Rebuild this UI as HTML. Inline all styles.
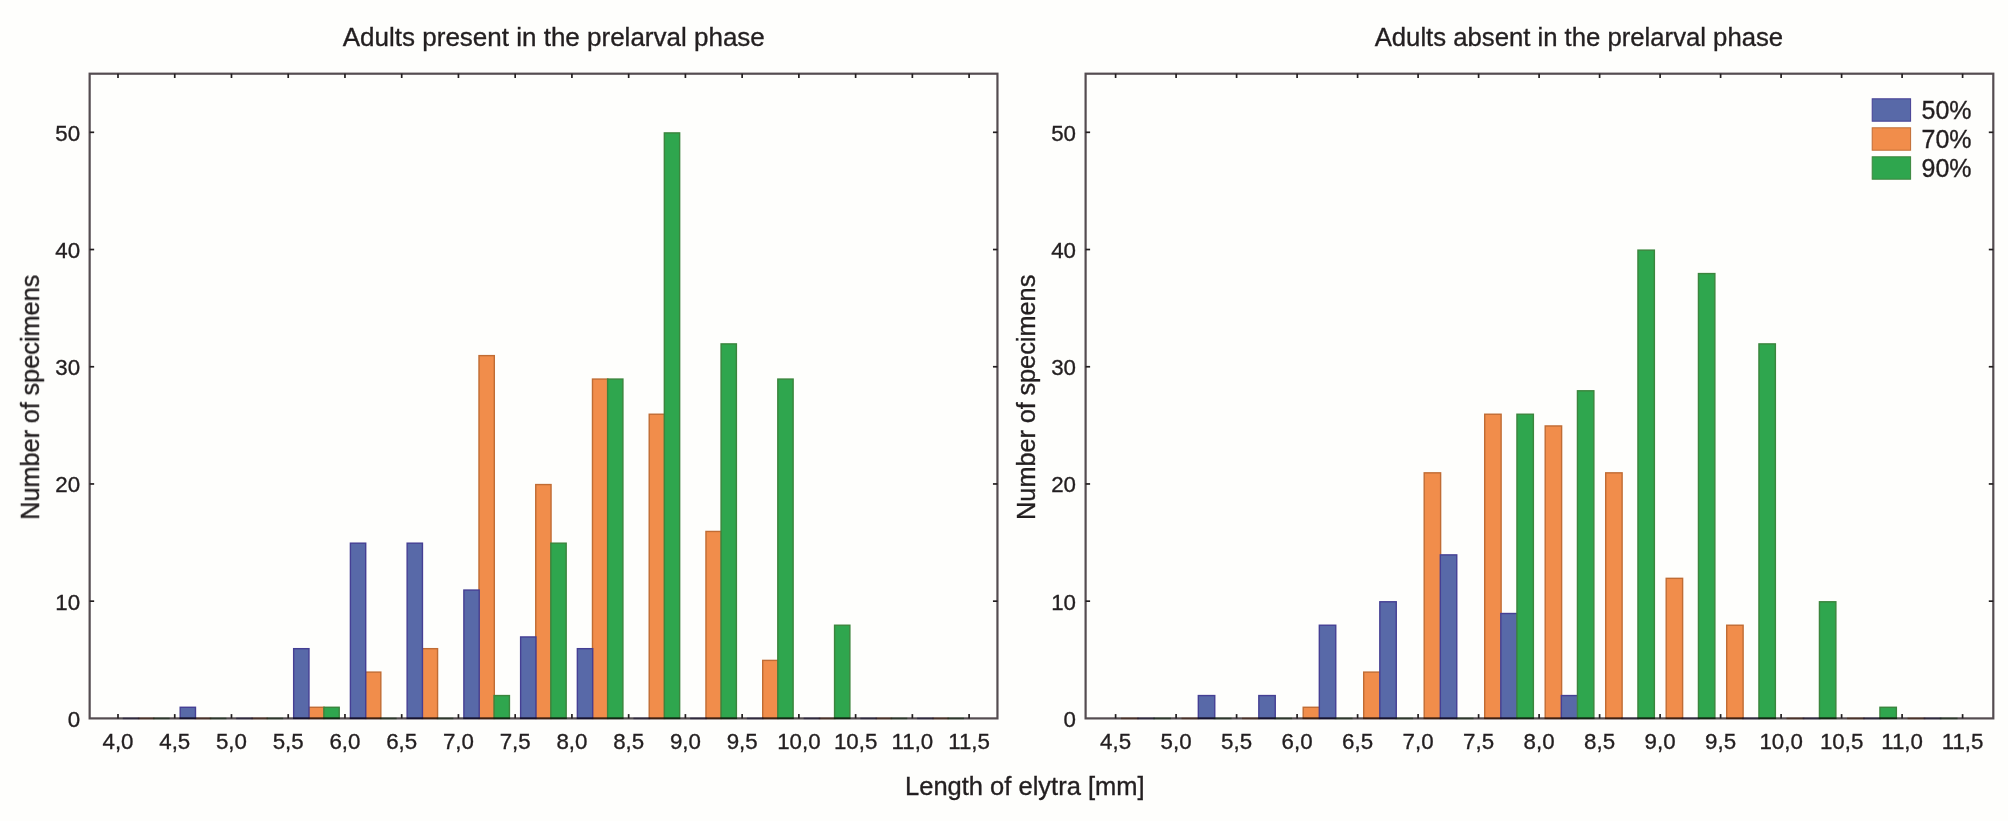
<!DOCTYPE html>
<html><head><meta charset="utf-8"><title>Length of elytra histogram</title>
<style>
html,body{margin:0;padding:0;background:#fefefc;}
body{width:2008px;height:821px;overflow:hidden;}
svg{display:block;}
svg text{font-family:"Liberation Sans",Arial,Helvetica,sans-serif;fill:#231f20;stroke:#231f20;stroke-width:0.35px;}
#all{filter:blur(0.45px);}
</style></head><body>
<svg width="2008" height="821" viewBox="0 0 2008 821">
<rect x="0" y="0" width="2008" height="821" fill="#fefefc"/>
<g id="all">
<rect x="137.86" y="717.55" width="16.71" height="1.7" fill="#c06c34" opacity="0.6"/>
<rect x="194.60" y="717.55" width="16.71" height="1.7" fill="#c06c34" opacity="0.6"/>
<rect x="251.34" y="717.55" width="16.71" height="1.7" fill="#c06c34" opacity="0.6"/>
<rect x="308.78" y="707.28" width="15.31" height="11.12" fill="#f18d4b" stroke="#c06c34" stroke-width="1.4"/>
<rect x="365.52" y="672.11" width="15.31" height="46.29" fill="#f18d4b" stroke="#c06c34" stroke-width="1.4"/>
<rect x="422.26" y="648.67" width="15.31" height="69.73" fill="#f18d4b" stroke="#c06c34" stroke-width="1.4"/>
<rect x="479.00" y="355.62" width="15.31" height="362.78" fill="#f18d4b" stroke="#c06c34" stroke-width="1.4"/>
<rect x="535.74" y="484.56" width="15.31" height="233.84" fill="#f18d4b" stroke="#c06c34" stroke-width="1.4"/>
<rect x="592.48" y="379.07" width="15.31" height="339.33" fill="#f18d4b" stroke="#c06c34" stroke-width="1.4"/>
<rect x="649.22" y="414.23" width="15.31" height="304.17" fill="#f18d4b" stroke="#c06c34" stroke-width="1.4"/>
<rect x="705.96" y="531.45" width="15.31" height="186.95" fill="#f18d4b" stroke="#c06c34" stroke-width="1.4"/>
<rect x="762.70" y="660.39" width="15.31" height="58.01" fill="#f18d4b" stroke="#c06c34" stroke-width="1.4"/>
<rect x="818.74" y="717.55" width="16.71" height="1.7" fill="#c06c34" opacity="0.6"/>
<rect x="875.48" y="717.55" width="16.71" height="1.7" fill="#c06c34" opacity="0.6"/>
<rect x="932.22" y="717.55" width="16.71" height="1.7" fill="#c06c34" opacity="0.6"/>
<rect x="122.74" y="717.55" width="16.71" height="1.7" fill="#453f94" opacity="0.6"/>
<rect x="180.18" y="707.28" width="15.31" height="11.12" fill="#5869a8" stroke="#453f94" stroke-width="1.4"/>
<rect x="236.22" y="717.55" width="16.71" height="1.7" fill="#453f94" opacity="0.6"/>
<rect x="293.66" y="648.67" width="15.31" height="69.73" fill="#5869a8" stroke="#453f94" stroke-width="1.4"/>
<rect x="350.40" y="543.17" width="15.31" height="175.23" fill="#5869a8" stroke="#453f94" stroke-width="1.4"/>
<rect x="407.14" y="543.17" width="15.31" height="175.23" fill="#5869a8" stroke="#453f94" stroke-width="1.4"/>
<rect x="463.88" y="590.06" width="15.31" height="128.34" fill="#5869a8" stroke="#453f94" stroke-width="1.4"/>
<rect x="520.62" y="636.95" width="15.31" height="81.45" fill="#5869a8" stroke="#453f94" stroke-width="1.4"/>
<rect x="577.36" y="648.67" width="15.31" height="69.73" fill="#5869a8" stroke="#453f94" stroke-width="1.4"/>
<rect x="633.40" y="717.55" width="16.71" height="1.7" fill="#453f94" opacity="0.6"/>
<rect x="690.14" y="717.55" width="16.71" height="1.7" fill="#453f94" opacity="0.6"/>
<rect x="746.88" y="717.55" width="16.71" height="1.7" fill="#453f94" opacity="0.6"/>
<rect x="803.62" y="717.55" width="16.71" height="1.7" fill="#453f94" opacity="0.6"/>
<rect x="860.36" y="717.55" width="16.71" height="1.7" fill="#453f94" opacity="0.6"/>
<rect x="917.10" y="717.55" width="16.71" height="1.7" fill="#453f94" opacity="0.6"/>
<rect x="152.98" y="717.55" width="16.71" height="1.7" fill="#3b853d" opacity="0.6"/>
<rect x="209.72" y="717.55" width="16.71" height="1.7" fill="#3b853d" opacity="0.6"/>
<rect x="266.46" y="717.55" width="16.71" height="1.7" fill="#3b853d" opacity="0.6"/>
<rect x="323.90" y="707.28" width="15.31" height="11.12" fill="#2fa64e" stroke="#3b853d" stroke-width="1.4"/>
<rect x="379.94" y="717.55" width="16.71" height="1.7" fill="#3b853d" opacity="0.6"/>
<rect x="436.68" y="717.55" width="16.71" height="1.7" fill="#3b853d" opacity="0.6"/>
<rect x="494.12" y="695.56" width="15.31" height="22.84" fill="#2fa64e" stroke="#3b853d" stroke-width="1.4"/>
<rect x="550.86" y="543.17" width="15.31" height="175.23" fill="#2fa64e" stroke="#3b853d" stroke-width="1.4"/>
<rect x="607.60" y="379.07" width="15.31" height="339.33" fill="#2fa64e" stroke="#3b853d" stroke-width="1.4"/>
<rect x="664.34" y="132.91" width="15.31" height="585.49" fill="#2fa64e" stroke="#3b853d" stroke-width="1.4"/>
<rect x="721.08" y="343.90" width="15.31" height="374.50" fill="#2fa64e" stroke="#3b853d" stroke-width="1.4"/>
<rect x="777.82" y="379.07" width="15.31" height="339.33" fill="#2fa64e" stroke="#3b853d" stroke-width="1.4"/>
<rect x="834.56" y="625.23" width="15.31" height="93.17" fill="#2fa64e" stroke="#3b853d" stroke-width="1.4"/>
<rect x="890.60" y="717.55" width="16.71" height="1.7" fill="#3b853d" opacity="0.6"/>
<rect x="947.34" y="717.55" width="16.71" height="1.7" fill="#3b853d" opacity="0.6"/>
<rect x="89.65" y="73.70" width="907.80" height="644.70" fill="none" stroke="#544c50" stroke-width="2.2" style="mix-blend-mode:multiply"/>
<line x1="118.00" y1="718.40" x2="118.00" y2="714.10" stroke="#231f20" stroke-width="1.7"/>
<line x1="118.00" y1="73.70" x2="118.00" y2="78.00" stroke="#231f20" stroke-width="1.7"/>
<text x="118.00" y="748.7" font-size="22.3" text-anchor="middle">4,0</text>
<line x1="174.74" y1="718.40" x2="174.74" y2="714.10" stroke="#231f20" stroke-width="1.7"/>
<line x1="174.74" y1="73.70" x2="174.74" y2="78.00" stroke="#231f20" stroke-width="1.7"/>
<text x="174.74" y="748.7" font-size="22.3" text-anchor="middle">4,5</text>
<line x1="231.48" y1="718.40" x2="231.48" y2="714.10" stroke="#231f20" stroke-width="1.7"/>
<line x1="231.48" y1="73.70" x2="231.48" y2="78.00" stroke="#231f20" stroke-width="1.7"/>
<text x="231.48" y="748.7" font-size="22.3" text-anchor="middle">5,0</text>
<line x1="288.22" y1="718.40" x2="288.22" y2="714.10" stroke="#231f20" stroke-width="1.7"/>
<line x1="288.22" y1="73.70" x2="288.22" y2="78.00" stroke="#231f20" stroke-width="1.7"/>
<text x="288.22" y="748.7" font-size="22.3" text-anchor="middle">5,5</text>
<line x1="344.96" y1="718.40" x2="344.96" y2="714.10" stroke="#231f20" stroke-width="1.7"/>
<line x1="344.96" y1="73.70" x2="344.96" y2="78.00" stroke="#231f20" stroke-width="1.7"/>
<text x="344.96" y="748.7" font-size="22.3" text-anchor="middle">6,0</text>
<line x1="401.70" y1="718.40" x2="401.70" y2="714.10" stroke="#231f20" stroke-width="1.7"/>
<line x1="401.70" y1="73.70" x2="401.70" y2="78.00" stroke="#231f20" stroke-width="1.7"/>
<text x="401.70" y="748.7" font-size="22.3" text-anchor="middle">6,5</text>
<line x1="458.44" y1="718.40" x2="458.44" y2="714.10" stroke="#231f20" stroke-width="1.7"/>
<line x1="458.44" y1="73.70" x2="458.44" y2="78.00" stroke="#231f20" stroke-width="1.7"/>
<text x="458.44" y="748.7" font-size="22.3" text-anchor="middle">7,0</text>
<line x1="515.18" y1="718.40" x2="515.18" y2="714.10" stroke="#231f20" stroke-width="1.7"/>
<line x1="515.18" y1="73.70" x2="515.18" y2="78.00" stroke="#231f20" stroke-width="1.7"/>
<text x="515.18" y="748.7" font-size="22.3" text-anchor="middle">7,5</text>
<line x1="571.92" y1="718.40" x2="571.92" y2="714.10" stroke="#231f20" stroke-width="1.7"/>
<line x1="571.92" y1="73.70" x2="571.92" y2="78.00" stroke="#231f20" stroke-width="1.7"/>
<text x="571.92" y="748.7" font-size="22.3" text-anchor="middle">8,0</text>
<line x1="628.66" y1="718.40" x2="628.66" y2="714.10" stroke="#231f20" stroke-width="1.7"/>
<line x1="628.66" y1="73.70" x2="628.66" y2="78.00" stroke="#231f20" stroke-width="1.7"/>
<text x="628.66" y="748.7" font-size="22.3" text-anchor="middle">8,5</text>
<line x1="685.40" y1="718.40" x2="685.40" y2="714.10" stroke="#231f20" stroke-width="1.7"/>
<line x1="685.40" y1="73.70" x2="685.40" y2="78.00" stroke="#231f20" stroke-width="1.7"/>
<text x="685.40" y="748.7" font-size="22.3" text-anchor="middle">9,0</text>
<line x1="742.14" y1="718.40" x2="742.14" y2="714.10" stroke="#231f20" stroke-width="1.7"/>
<line x1="742.14" y1="73.70" x2="742.14" y2="78.00" stroke="#231f20" stroke-width="1.7"/>
<text x="742.14" y="748.7" font-size="22.3" text-anchor="middle">9,5</text>
<line x1="798.88" y1="718.40" x2="798.88" y2="714.10" stroke="#231f20" stroke-width="1.7"/>
<line x1="798.88" y1="73.70" x2="798.88" y2="78.00" stroke="#231f20" stroke-width="1.7"/>
<text x="798.88" y="748.7" font-size="22.3" text-anchor="middle">10,0</text>
<line x1="855.62" y1="718.40" x2="855.62" y2="714.10" stroke="#231f20" stroke-width="1.7"/>
<line x1="855.62" y1="73.70" x2="855.62" y2="78.00" stroke="#231f20" stroke-width="1.7"/>
<text x="855.62" y="748.7" font-size="22.3" text-anchor="middle">10,5</text>
<line x1="912.36" y1="718.40" x2="912.36" y2="714.10" stroke="#231f20" stroke-width="1.7"/>
<line x1="912.36" y1="73.70" x2="912.36" y2="78.00" stroke="#231f20" stroke-width="1.7"/>
<text x="912.36" y="748.7" font-size="22.3" text-anchor="middle">11,0</text>
<line x1="969.10" y1="718.40" x2="969.10" y2="714.10" stroke="#231f20" stroke-width="1.7"/>
<line x1="969.10" y1="73.70" x2="969.10" y2="78.00" stroke="#231f20" stroke-width="1.7"/>
<text x="969.10" y="748.7" font-size="22.3" text-anchor="middle">11,5</text>
<text x="80.05" y="726.80" font-size="22.3" text-anchor="end">0</text>
<line x1="89.65" y1="601.18" x2="94.15" y2="601.18" stroke="#231f20" stroke-width="1.7"/>
<line x1="997.45" y1="601.18" x2="992.95" y2="601.18" stroke="#231f20" stroke-width="1.7"/>
<text x="80.05" y="609.58" font-size="22.3" text-anchor="end">10</text>
<line x1="89.65" y1="483.96" x2="94.15" y2="483.96" stroke="#231f20" stroke-width="1.7"/>
<line x1="997.45" y1="483.96" x2="992.95" y2="483.96" stroke="#231f20" stroke-width="1.7"/>
<text x="80.05" y="492.36" font-size="22.3" text-anchor="end">20</text>
<line x1="89.65" y1="366.75" x2="94.15" y2="366.75" stroke="#231f20" stroke-width="1.7"/>
<line x1="997.45" y1="366.75" x2="992.95" y2="366.75" stroke="#231f20" stroke-width="1.7"/>
<text x="80.05" y="375.15" font-size="22.3" text-anchor="end">30</text>
<line x1="89.65" y1="249.53" x2="94.15" y2="249.53" stroke="#231f20" stroke-width="1.7"/>
<line x1="997.45" y1="249.53" x2="992.95" y2="249.53" stroke="#231f20" stroke-width="1.7"/>
<text x="80.05" y="257.93" font-size="22.3" text-anchor="end">40</text>
<line x1="89.65" y1="132.31" x2="94.15" y2="132.31" stroke="#231f20" stroke-width="1.7"/>
<line x1="997.45" y1="132.31" x2="992.95" y2="132.31" stroke="#231f20" stroke-width="1.7"/>
<text x="80.05" y="140.71" font-size="22.3" text-anchor="end">50</text>
<text x="553.80" y="46.3" font-size="26" text-anchor="middle">Adults present in the prelarval phase</text>
<text transform="translate(38.95,397.3) rotate(-90)" font-size="25.3" word-spacing="-0.4" text-anchor="middle">Number of specimens</text>
<rect x="1121.00" y="717.55" width="17.82" height="1.7" fill="#c06c34" opacity="0.6"/>
<rect x="1181.50" y="717.55" width="17.82" height="1.7" fill="#c06c34" opacity="0.6"/>
<rect x="1242.00" y="717.55" width="17.82" height="1.7" fill="#c06c34" opacity="0.6"/>
<rect x="1303.20" y="707.28" width="16.42" height="11.12" fill="#f18d4b" stroke="#c06c34" stroke-width="1.4"/>
<rect x="1363.70" y="672.11" width="16.42" height="46.29" fill="#f18d4b" stroke="#c06c34" stroke-width="1.4"/>
<rect x="1424.20" y="472.84" width="16.42" height="245.56" fill="#f18d4b" stroke="#c06c34" stroke-width="1.4"/>
<rect x="1484.70" y="414.23" width="16.42" height="304.17" fill="#f18d4b" stroke="#c06c34" stroke-width="1.4"/>
<rect x="1545.20" y="425.95" width="16.42" height="292.45" fill="#f18d4b" stroke="#c06c34" stroke-width="1.4"/>
<rect x="1605.70" y="472.84" width="16.42" height="245.56" fill="#f18d4b" stroke="#c06c34" stroke-width="1.4"/>
<rect x="1666.20" y="578.34" width="16.42" height="140.06" fill="#f18d4b" stroke="#c06c34" stroke-width="1.4"/>
<rect x="1726.70" y="625.23" width="16.42" height="93.17" fill="#f18d4b" stroke="#c06c34" stroke-width="1.4"/>
<rect x="1786.50" y="717.55" width="17.82" height="1.7" fill="#c06c34" opacity="0.6"/>
<rect x="1847.00" y="717.55" width="17.82" height="1.7" fill="#c06c34" opacity="0.6"/>
<rect x="1907.50" y="717.55" width="17.82" height="1.7" fill="#c06c34" opacity="0.6"/>
<rect x="1137.12" y="717.55" width="17.82" height="1.7" fill="#453f94" opacity="0.6"/>
<rect x="1198.33" y="695.56" width="16.42" height="22.84" fill="#5869a8" stroke="#453f94" stroke-width="1.4"/>
<rect x="1258.83" y="695.56" width="16.42" height="22.84" fill="#5869a8" stroke="#453f94" stroke-width="1.4"/>
<rect x="1319.33" y="625.23" width="16.42" height="93.17" fill="#5869a8" stroke="#453f94" stroke-width="1.4"/>
<rect x="1379.83" y="601.78" width="16.42" height="116.62" fill="#5869a8" stroke="#453f94" stroke-width="1.4"/>
<rect x="1440.33" y="554.89" width="16.42" height="163.51" fill="#5869a8" stroke="#453f94" stroke-width="1.4"/>
<rect x="1500.83" y="613.50" width="16.42" height="104.90" fill="#5869a8" stroke="#453f94" stroke-width="1.4"/>
<rect x="1561.33" y="695.56" width="16.42" height="22.84" fill="#5869a8" stroke="#453f94" stroke-width="1.4"/>
<rect x="1621.12" y="717.55" width="17.82" height="1.7" fill="#453f94" opacity="0.6"/>
<rect x="1681.62" y="717.55" width="17.82" height="1.7" fill="#453f94" opacity="0.6"/>
<rect x="1742.12" y="717.55" width="17.82" height="1.7" fill="#453f94" opacity="0.6"/>
<rect x="1802.62" y="717.55" width="17.82" height="1.7" fill="#453f94" opacity="0.6"/>
<rect x="1863.12" y="717.55" width="17.82" height="1.7" fill="#453f94" opacity="0.6"/>
<rect x="1923.62" y="717.55" width="17.82" height="1.7" fill="#453f94" opacity="0.6"/>
<rect x="1153.25" y="717.55" width="17.82" height="1.7" fill="#3b853d" opacity="0.6"/>
<rect x="1213.75" y="717.55" width="17.82" height="1.7" fill="#3b853d" opacity="0.6"/>
<rect x="1274.25" y="717.55" width="17.82" height="1.7" fill="#3b853d" opacity="0.6"/>
<rect x="1334.75" y="717.55" width="17.82" height="1.7" fill="#3b853d" opacity="0.6"/>
<rect x="1395.25" y="717.55" width="17.82" height="1.7" fill="#3b853d" opacity="0.6"/>
<rect x="1455.75" y="717.55" width="17.82" height="1.7" fill="#3b853d" opacity="0.6"/>
<rect x="1516.95" y="414.23" width="16.42" height="304.17" fill="#2fa64e" stroke="#3b853d" stroke-width="1.4"/>
<rect x="1577.45" y="390.79" width="16.42" height="327.61" fill="#2fa64e" stroke="#3b853d" stroke-width="1.4"/>
<rect x="1637.95" y="250.13" width="16.42" height="468.27" fill="#2fa64e" stroke="#3b853d" stroke-width="1.4"/>
<rect x="1698.45" y="273.57" width="16.42" height="444.83" fill="#2fa64e" stroke="#3b853d" stroke-width="1.4"/>
<rect x="1758.95" y="343.90" width="16.42" height="374.50" fill="#2fa64e" stroke="#3b853d" stroke-width="1.4"/>
<rect x="1819.45" y="601.78" width="16.42" height="116.62" fill="#2fa64e" stroke="#3b853d" stroke-width="1.4"/>
<rect x="1879.95" y="707.28" width="16.42" height="11.12" fill="#2fa64e" stroke="#3b853d" stroke-width="1.4"/>
<rect x="1939.75" y="717.55" width="17.82" height="1.7" fill="#3b853d" opacity="0.6"/>
<rect x="1085.60" y="73.70" width="907.70" height="644.70" fill="none" stroke="#544c50" stroke-width="2.2" style="mix-blend-mode:multiply"/>
<line x1="1115.60" y1="718.40" x2="1115.60" y2="714.10" stroke="#231f20" stroke-width="1.7"/>
<line x1="1115.60" y1="73.70" x2="1115.60" y2="78.00" stroke="#231f20" stroke-width="1.7"/>
<text x="1115.60" y="748.7" font-size="22.3" text-anchor="middle">4,5</text>
<line x1="1176.10" y1="718.40" x2="1176.10" y2="714.10" stroke="#231f20" stroke-width="1.7"/>
<line x1="1176.10" y1="73.70" x2="1176.10" y2="78.00" stroke="#231f20" stroke-width="1.7"/>
<text x="1176.10" y="748.7" font-size="22.3" text-anchor="middle">5,0</text>
<line x1="1236.60" y1="718.40" x2="1236.60" y2="714.10" stroke="#231f20" stroke-width="1.7"/>
<line x1="1236.60" y1="73.70" x2="1236.60" y2="78.00" stroke="#231f20" stroke-width="1.7"/>
<text x="1236.60" y="748.7" font-size="22.3" text-anchor="middle">5,5</text>
<line x1="1297.10" y1="718.40" x2="1297.10" y2="714.10" stroke="#231f20" stroke-width="1.7"/>
<line x1="1297.10" y1="73.70" x2="1297.10" y2="78.00" stroke="#231f20" stroke-width="1.7"/>
<text x="1297.10" y="748.7" font-size="22.3" text-anchor="middle">6,0</text>
<line x1="1357.60" y1="718.40" x2="1357.60" y2="714.10" stroke="#231f20" stroke-width="1.7"/>
<line x1="1357.60" y1="73.70" x2="1357.60" y2="78.00" stroke="#231f20" stroke-width="1.7"/>
<text x="1357.60" y="748.7" font-size="22.3" text-anchor="middle">6,5</text>
<line x1="1418.10" y1="718.40" x2="1418.10" y2="714.10" stroke="#231f20" stroke-width="1.7"/>
<line x1="1418.10" y1="73.70" x2="1418.10" y2="78.00" stroke="#231f20" stroke-width="1.7"/>
<text x="1418.10" y="748.7" font-size="22.3" text-anchor="middle">7,0</text>
<line x1="1478.60" y1="718.40" x2="1478.60" y2="714.10" stroke="#231f20" stroke-width="1.7"/>
<line x1="1478.60" y1="73.70" x2="1478.60" y2="78.00" stroke="#231f20" stroke-width="1.7"/>
<text x="1478.60" y="748.7" font-size="22.3" text-anchor="middle">7,5</text>
<line x1="1539.10" y1="718.40" x2="1539.10" y2="714.10" stroke="#231f20" stroke-width="1.7"/>
<line x1="1539.10" y1="73.70" x2="1539.10" y2="78.00" stroke="#231f20" stroke-width="1.7"/>
<text x="1539.10" y="748.7" font-size="22.3" text-anchor="middle">8,0</text>
<line x1="1599.60" y1="718.40" x2="1599.60" y2="714.10" stroke="#231f20" stroke-width="1.7"/>
<line x1="1599.60" y1="73.70" x2="1599.60" y2="78.00" stroke="#231f20" stroke-width="1.7"/>
<text x="1599.60" y="748.7" font-size="22.3" text-anchor="middle">8,5</text>
<line x1="1660.10" y1="718.40" x2="1660.10" y2="714.10" stroke="#231f20" stroke-width="1.7"/>
<line x1="1660.10" y1="73.70" x2="1660.10" y2="78.00" stroke="#231f20" stroke-width="1.7"/>
<text x="1660.10" y="748.7" font-size="22.3" text-anchor="middle">9,0</text>
<line x1="1720.60" y1="718.40" x2="1720.60" y2="714.10" stroke="#231f20" stroke-width="1.7"/>
<line x1="1720.60" y1="73.70" x2="1720.60" y2="78.00" stroke="#231f20" stroke-width="1.7"/>
<text x="1720.60" y="748.7" font-size="22.3" text-anchor="middle">9,5</text>
<line x1="1781.10" y1="718.40" x2="1781.10" y2="714.10" stroke="#231f20" stroke-width="1.7"/>
<line x1="1781.10" y1="73.70" x2="1781.10" y2="78.00" stroke="#231f20" stroke-width="1.7"/>
<text x="1781.10" y="748.7" font-size="22.3" text-anchor="middle">10,0</text>
<line x1="1841.60" y1="718.40" x2="1841.60" y2="714.10" stroke="#231f20" stroke-width="1.7"/>
<line x1="1841.60" y1="73.70" x2="1841.60" y2="78.00" stroke="#231f20" stroke-width="1.7"/>
<text x="1841.60" y="748.7" font-size="22.3" text-anchor="middle">10,5</text>
<line x1="1902.10" y1="718.40" x2="1902.10" y2="714.10" stroke="#231f20" stroke-width="1.7"/>
<line x1="1902.10" y1="73.70" x2="1902.10" y2="78.00" stroke="#231f20" stroke-width="1.7"/>
<text x="1902.10" y="748.7" font-size="22.3" text-anchor="middle">11,0</text>
<line x1="1962.60" y1="718.40" x2="1962.60" y2="714.10" stroke="#231f20" stroke-width="1.7"/>
<line x1="1962.60" y1="73.70" x2="1962.60" y2="78.00" stroke="#231f20" stroke-width="1.7"/>
<text x="1962.60" y="748.7" font-size="22.3" text-anchor="middle">11,5</text>
<text x="1076.00" y="726.80" font-size="22.3" text-anchor="end">0</text>
<line x1="1085.60" y1="601.18" x2="1090.10" y2="601.18" stroke="#231f20" stroke-width="1.7"/>
<line x1="1993.30" y1="601.18" x2="1988.80" y2="601.18" stroke="#231f20" stroke-width="1.7"/>
<text x="1076.00" y="609.58" font-size="22.3" text-anchor="end">10</text>
<line x1="1085.60" y1="483.96" x2="1090.10" y2="483.96" stroke="#231f20" stroke-width="1.7"/>
<line x1="1993.30" y1="483.96" x2="1988.80" y2="483.96" stroke="#231f20" stroke-width="1.7"/>
<text x="1076.00" y="492.36" font-size="22.3" text-anchor="end">20</text>
<line x1="1085.60" y1="366.75" x2="1090.10" y2="366.75" stroke="#231f20" stroke-width="1.7"/>
<line x1="1993.30" y1="366.75" x2="1988.80" y2="366.75" stroke="#231f20" stroke-width="1.7"/>
<text x="1076.00" y="375.15" font-size="22.3" text-anchor="end">30</text>
<line x1="1085.60" y1="249.53" x2="1090.10" y2="249.53" stroke="#231f20" stroke-width="1.7"/>
<line x1="1993.30" y1="249.53" x2="1988.80" y2="249.53" stroke="#231f20" stroke-width="1.7"/>
<text x="1076.00" y="257.93" font-size="22.3" text-anchor="end">40</text>
<line x1="1085.60" y1="132.31" x2="1090.10" y2="132.31" stroke="#231f20" stroke-width="1.7"/>
<line x1="1993.30" y1="132.31" x2="1988.80" y2="132.31" stroke="#231f20" stroke-width="1.7"/>
<text x="1076.00" y="140.71" font-size="22.3" text-anchor="end">50</text>
<text x="1578.90" y="46.3" font-size="25.7" text-anchor="middle">Adults absent in the prelarval phase</text>
<text transform="translate(1034.90,397.3) rotate(-90)" font-size="25.3" word-spacing="-0.4" text-anchor="middle">Number of specimens</text>
<rect x="1872.2" y="98.80" width="38.4" height="22.4" fill="#5869a8" stroke="#453f94" stroke-width="1"/>
<text x="1921.5" y="118.80" font-size="25">50%</text>
<rect x="1872.2" y="127.80" width="38.4" height="22.4" fill="#f18d4b" stroke="#c06c34" stroke-width="1"/>
<text x="1921.5" y="147.80" font-size="25">70%</text>
<rect x="1872.2" y="156.80" width="38.4" height="22.4" fill="#2fa64e" stroke="#3b853d" stroke-width="1"/>
<text x="1921.5" y="176.80" font-size="25">90%</text>
<text x="1024.8" y="794.8" font-size="25.5" text-anchor="middle">Length of elytra [mm]</text>
</g>
</svg>
</body></html>
